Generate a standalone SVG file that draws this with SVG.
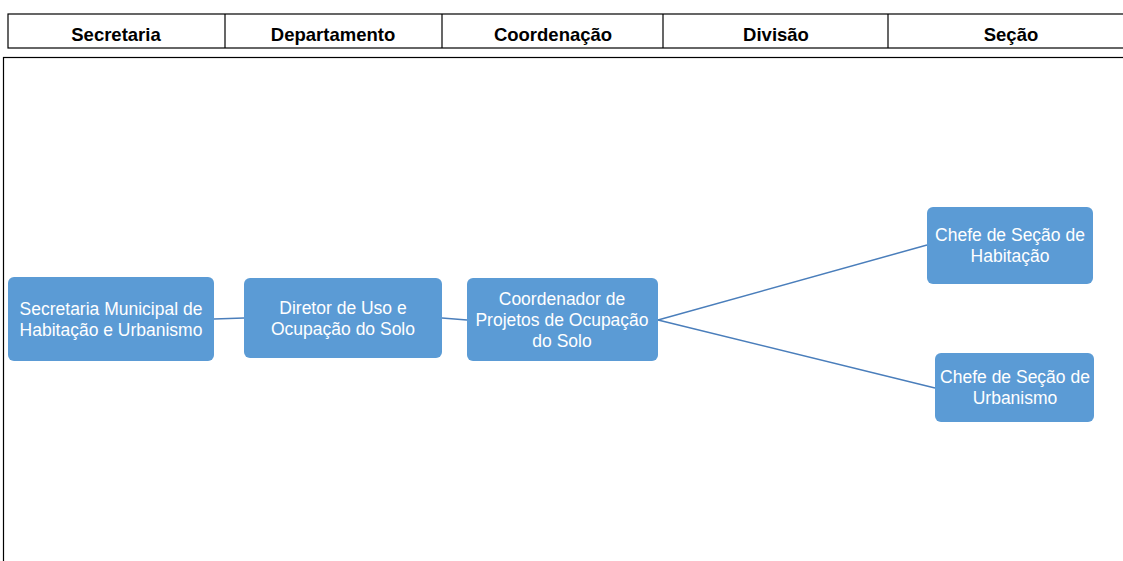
<svg xmlns="http://www.w3.org/2000/svg" width="1123" height="561" viewBox="0 0 1123 561">
<style>
.hdr{font-family:"Liberation Sans",Arial,sans-serif;font-weight:bold;font-size:18.5px;fill:#000;text-anchor:middle}
.box{fill:#5B9BD5;stroke:none}
.lbl{font-family:"Liberation Sans",Arial,sans-serif;font-size:17.5px;fill:#fff;text-anchor:middle}
.con{stroke:#4A7EBB;stroke-width:1.5;fill:none}
.frame{fill:none;stroke:#000;stroke-width:1.2}
</style>
<rect width="1123" height="561" fill="#fff"/>
<g id="header">
<rect class="frame" x="8" y="14" width="1120" height="34"/>
<line class="frame" x1="225" y1="14" x2="225" y2="48"/>
<line class="frame" x1="442" y1="14" x2="442" y2="48"/>
<line class="frame" x1="663" y1="14" x2="663" y2="48"/>
<line class="frame" x1="888" y1="14" x2="888" y2="48"/>
<text class="hdr" x="116" y="41">Secretaria</text>
<text class="hdr" x="333" y="41">Departamento</text>
<text class="hdr" x="553" y="41">Coordenação</text>
<text class="hdr" x="776" y="41">Divisão</text>
<text class="hdr" x="1011" y="41">Seção</text>
</g>
<rect class="frame" x="3.5" y="57.5" width="1130" height="520" stroke="#444"/>
<g id="connectors">
<line class="con" x1="214" y1="319" x2="244" y2="318"/>
<line class="con" x1="442" y1="318" x2="467" y2="320"/>
<line class="con" x1="658" y1="320" x2="927" y2="245"/>
<line class="con" x1="658" y1="320" x2="935" y2="388"/>
</g>
<g id="n1">
<rect class="box" x="8" y="277" width="206" height="84" rx="6"/>
<text class="lbl" x="111" y="315">Secretaria Municipal de</text>
<text class="lbl" x="111" y="336">Habitação e Urbanismo</text>
</g>
<g id="n2">
<rect class="box" x="244" y="278" width="198" height="80" rx="6"/>
<text class="lbl" x="343" y="314">Diretor de Uso e</text>
<text class="lbl" x="343" y="335">Ocupação do Solo</text>
</g>
<g id="n3">
<rect class="box" x="467" y="278" width="191" height="83" rx="6"/>
<text class="lbl" x="562" y="305">Coordenador de</text>
<text class="lbl" x="562" y="326">Projetos de Ocupação</text>
<text class="lbl" x="562" y="347">do Solo</text>
</g>
<g id="n4">
<rect class="box" x="927" y="207" width="166" height="77" rx="6"/>
<text class="lbl" x="1010" y="241">Chefe de Seção de</text>
<text class="lbl" x="1010" y="262">Habitação</text>
</g>
<g id="n5">
<rect class="box" x="935" y="353" width="159" height="69" rx="6"/>
<text class="lbl" x="1015" y="383">Chefe de Seção de</text>
<text class="lbl" x="1015" y="404">Urbanismo</text>
</g>
</svg>
